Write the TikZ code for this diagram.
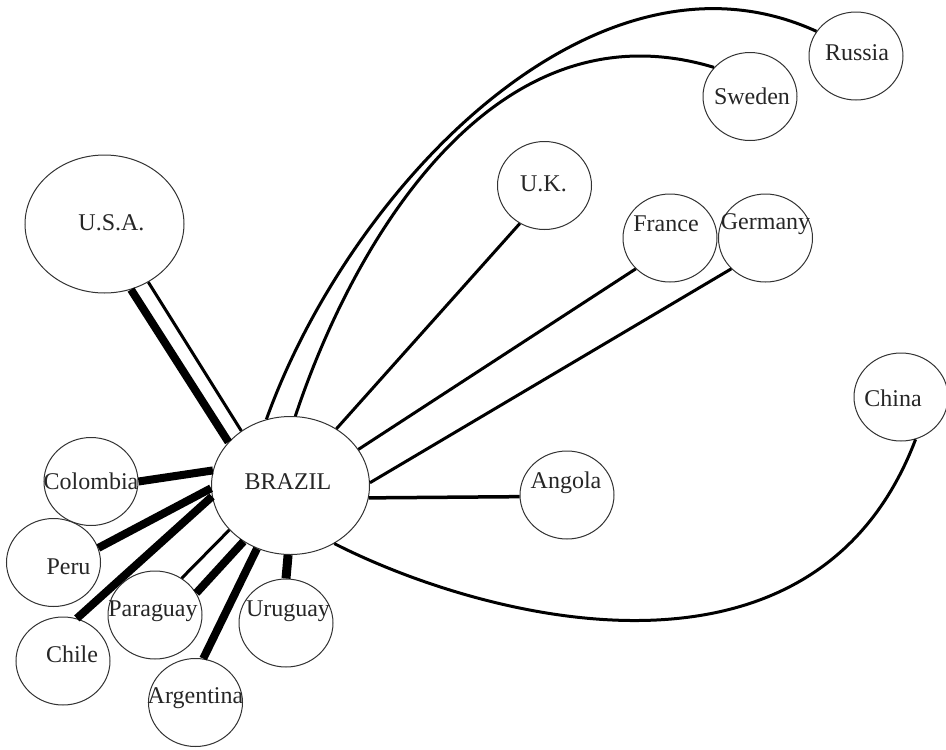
\documentclass[tikz,border=0pt]{standalone}
\usepackage{fontspec}
\setmainfont{Liberation Serif}
\usetikzlibrary{shapes.geometric}

\tikzset{
  country/.style={ellipse, draw=black!80, line width=1pt, minimum width=94pt, minimum height=88pt, inner sep=0pt},
  bigcountry/.style={country, minimum width=158pt, minimum height=138pt},
  tag/.style={font=\fontsize{24}{29}\selectfont, text=black!85, inner sep=0pt},
  link/.style={line width=3pt},
  heavylink/.style={line width=8pt},
}

\begin{document}
\begin{tikzpicture}[x=1pt, y=-1pt]

  %% ════ 国家（椭圆 + 标签）════
  \node[bigcountry, label={[tag,xshift=-2.5pt,yshift=3.5pt]center:BRAZIL}] (brazil) at (290.5,485.5) {};
  \node[bigcountry, minimum width=159pt, label={[tag,xshift=7pt,yshift=1pt]center:U.S.A.}] (usa) at (104.5,224) {};
  \node[country, label={[tag,xshift=1pt,yshift=3pt]center:Russia}] (russia) at (856,56) {};
  \node[country, label={[tag,xshift=2pt]center:Sweden}] (sweden) at (750,96.5) {};
  \node[country, label={[tag,xshift=-1pt,yshift=2pt]center:U.K.}] (uk) at (544.5,185.5) {};
  \node[country, label={[tag,xshift=-4pt,yshift=14pt]center:France}] (france) at (670,238) {};
  \node[country, label={[tag,yshift=14pt]center:Germany}] (germany) at (765.5,238) {};
  \node[country, label={[tag,xshift=-8pt,yshift=-1pt]center:China}] (china) at (901,397) {};
  \node[country, label={[tag,xshift=-1pt,yshift=12pt]center:Angola}] (angola) at (567,495) {};
  \node[country, label={[tag]center:Colombia}] (colombia) at (91,481.5) {};
  \node[country, label={[tag,xshift=15pt,yshift=-4pt]center:Peru}] (peru) at (53.5,562.5) {};
  \node[country, label={[tag,xshift=-2pt,yshift=4pt]center:Paraguay}] (paraguay) at (155,615) {};
  \node[country, label={[tag,xshift=2pt,yshift=12pt]center:Uruguay}] (uruguay) at (286,623) {};
  \node[country, label={[tag,xshift=9pt,yshift=7pt]center:Chile}] (chile) at (63,661) {};
  \node[country, label={[tag,yshift=4pt]center:Argentina}] (argentina) at (195.5,702.5) {};

  %% ════ 直线（粗 / 细）════
  \draw[heavylink] (usa.-68) -- (brazil.145);
  \draw[link] (usa.-53) -- (brazil.132);
  \draw[heavylink] (colombia.0) -- (brazil.169);
  \draw[heavylink] (peru.18) -- (brazil.182);
  \draw[heavylink] (chile.72) -- (brazil.188);
  \draw[link] (paraguay.54) -- (brazil.216);
  \draw[heavylink] (paraguay.28) -- (brazil.230);
  \draw[heavylink] (argentina.80) -- (brazil.242);
  \draw[heavylink, line width=9pt] (uruguay.90) -- (brazil.268);
  \draw[link] (uk.237) -- (brazil.51);
  \draw[link] (france.222) -- (brazil.28);
  \draw[link] (germany.222) -- (brazil.2);
  \draw[link, line width=3.5pt] (angola.182) -- (brazil.-9);

  %% ════ 曲线 ════
  \draw[link] (brazil.110) .. controls (350,187) and (595,-70) .. (russia.148);
  \draw[link] (brazil.86) .. controls (349,254) and (488,-1) .. (sweden.141);
  \draw[link] (brazil.-53) .. controls (478,617) and (813,710) .. (china.-71);

  \pgfresetboundingbox
  \path[use as bounding box] (0,0) rectangle (946,750);
\end{tikzpicture}
\end{document}
